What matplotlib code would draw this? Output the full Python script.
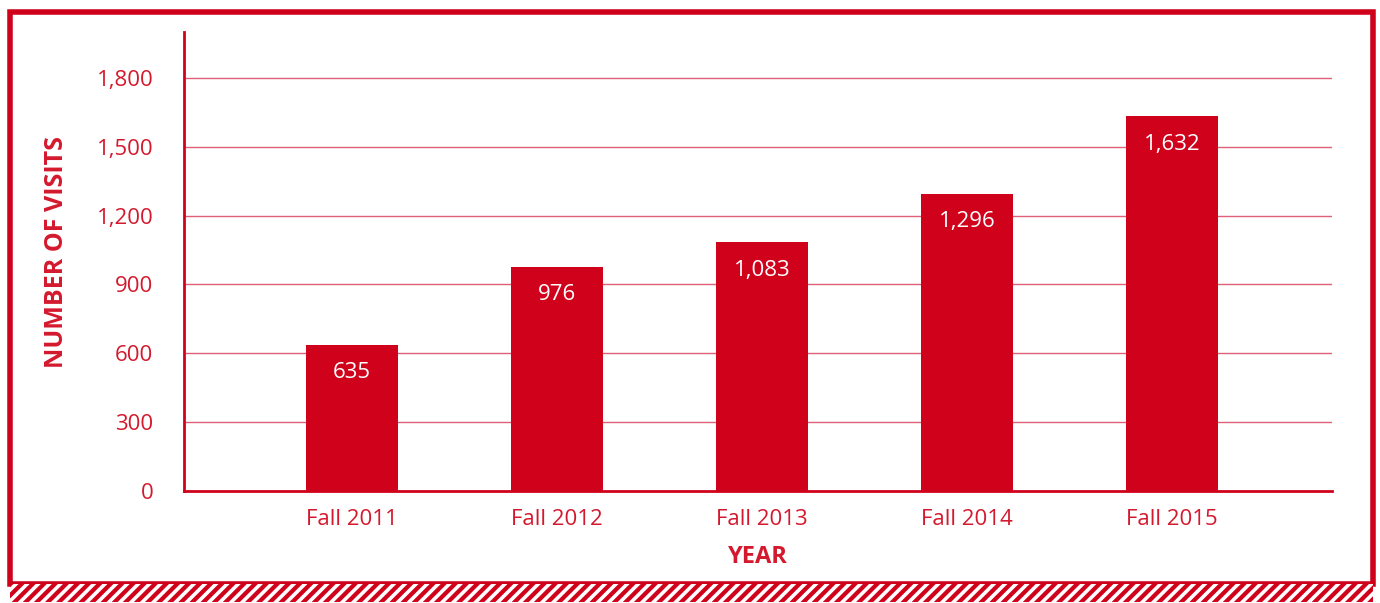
import matplotlib.pyplot as plt
from matplotlib.patches import Rectangle
from matplotlib.ticker import FuncFormatter

# Visits per fall semester
years = ["Fall 2011", "Fall 2012", "Fall 2013", "Fall 2014", "Fall 2015"]
visits = [635, 976, 1083, 1296, 1632]
y_ticks = [0, 300, 600, 900, 1200, 1500, 1800]

RED = "#D0021B"
TEXT_RED = "#D4192E"
GRID_RED = "#E0607A"

plt.rcParams["font.family"] = ["Open Sans", "DejaVu Sans"]
plt.rcParams["hatch.linewidth"] = 2.6
plt.rcParams["hatch.color"] = "white"

fig = plt.figure(figsize=(13.8, 6.03), dpi=100)
ax = fig.add_axes([0.1333, 0.1857, 0.8319, 0.7612])

x = list(range(len(years)))
ax.bar(x, visits, width=0.445, color=RED, zorder=3)

# value labels inside the top of each bar
for xi, v in zip(x, visits):
    ax.text(xi, v - 120, f"{v:,}", ha="center", va="center", color="white",
            fontsize=16, zorder=4)

ax.set_xlim(-0.82, 4.78)
ax.set_ylim(0, 2000)
ax.set_yticks(y_ticks)
ax.yaxis.set_major_formatter(FuncFormatter(lambda v, p: f"{int(v):,}"))
ax.set_xticks(x)
ax.set_xticklabels(years)

for t in y_ticks[1:]:
    ax.axhline(t, color=GRID_RED, linewidth=1.0, zorder=1)

ax.tick_params(axis="both", length=0, colors=TEXT_RED, labelsize=16)
ax.tick_params(axis="y", pad=22)
ax.tick_params(axis="x", pad=13)

for side in ["top", "right"]:
    ax.spines[side].set_visible(False)
for side in ["left", "bottom"]:
    ax.spines[side].set_color(RED)
    ax.spines[side].set_linewidth(2)

ax.set_ylabel("NUMBER OF VISITS", color=TEXT_RED, fontsize=18,
              fontweight="bold")
ax.set_xlabel("YEAR", color=TEXT_RED, fontsize=17, fontweight="bold",
              labelpad=11)
ax.yaxis.set_label_coords(-0.1, 0.52)

# outer frame and hatched strip along the bottom
fig.patches.append(Rectangle((10 / 1380, 19 / 603), 1363 / 1380, 572 / 603,
                             transform=fig.transFigure, fill=False,
                             edgecolor=RED, linewidth=4, zorder=0))
fig.patches.append(Rectangle((10 / 1380, 1 / 603), 1363 / 1380, 18 / 603,
                             transform=fig.transFigure, facecolor=RED,
                             edgecolor="white", hatch="///", linewidth=0,
                             zorder=0))

fig.savefig("out.png", dpi=100)
